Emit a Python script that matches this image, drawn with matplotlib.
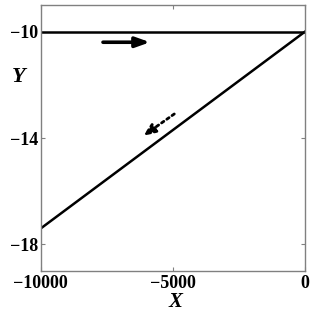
import matplotlib
matplotlib.use("Agg")
import matplotlib.pyplot as plt

# data
x_top = [-10000, 0]
y_top = [-10, -10]
x_diag = [0, -10000]
y_diag = [-10, -17.4]

x_ticks = [-10000, -5000, 0]
x_ticklabels = ["\u221210000", "\u22125000", "0"]
y_ticks = [-10, -14, -18]
y_ticklabels = ["\u221210", "\u221214", "\u221218"]

# arrows: (start, end)
solid_arrow = ((-7640, -10.39), (-5860, -10.39))
dashed_arrow = ((-4940, -13.09), (-6110, -13.91))

plt.rcParams['font.family'] = ['Liberation Serif', 'DejaVu Serif']

fig = plt.figure(figsize=(3.15, 3.16), dpi=100)
ax = fig.add_axes([40.7 / 315, 1 - 271 / 316, 264 / 315, 265.7 / 316])

ax.plot(x_top, y_top, color='black', lw=1.8)
ax.plot(x_diag, y_diag, color='black', lw=1.8)

ax.annotate('', xy=solid_arrow[1], xytext=solid_arrow[0],
            arrowprops=dict(arrowstyle='-|>,head_length=0.7,head_width=0.25',
                            color='black', lw=2.6,
                            mutation_scale=12, shrinkA=0, shrinkB=0))
ax.annotate('', xy=dashed_arrow[1], xytext=dashed_arrow[0],
            arrowprops=dict(arrowstyle='-|>,head_length=0.6,head_width=0.25',
                            color='black', lw=2,
                            linestyle=(0, (1.0, 1.3)),
                            mutation_scale=12, shrinkA=0, shrinkB=0))

ax.set_xlim(-10000, 0)
ax.set_ylim(-19, -9)
ax.set_xticks(x_ticks)
ax.set_xticklabels(x_ticklabels, fontsize=13, fontweight='bold')
ax.set_yticks(y_ticks)
ax.set_yticklabels(y_ticklabels, fontsize=13, fontweight='bold')
ax.tick_params(direction='in', length=3, width=0.8, color='gray',
               top=True, right=True)
ax.tick_params(axis='x', pad=3)
ax.tick_params(axis='y', pad=1.5)
for s in ax.spines.values():
    s.set_color('gray')
    s.set_linewidth(1)

fig.text(19 / 315, 1 - 77 / 316, 'Y', fontsize=16, fontstyle='italic',
         fontweight='bold', ha='center', va='center')
fig.text(175 / 315, 1 - 302 / 316, 'X', fontsize=15, fontstyle='italic',
         fontweight='bold', ha='center', va='center')

fig.savefig('out.png', dpi=100)
